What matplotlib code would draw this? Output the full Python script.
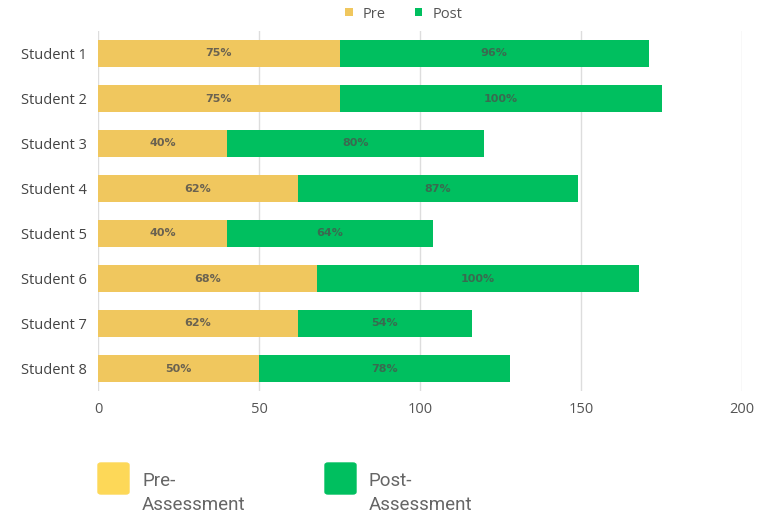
import matplotlib.pyplot as plt
from matplotlib.patches import FancyBboxPatch
import numpy as np

students = ['Student 1', 'Student 2', 'Student 3', 'Student 4',
            'Student 5', 'Student 6', 'Student 7', 'Student 8']
pre = [75, 75, 40, 62, 40, 68, 62, 50]
post = [96, 100, 80, 87, 64, 100, 54, 78]
x_ticks = [0, 50, 100, 150, 200]

PRE_COLOR = '#f0c75e'
POST_COLOR = '#00bf5f'
TEXT_COLOR = '#444444'

plt.rcParams['font.family'] = ['Open Sans', 'DejaVu Sans']

fig = plt.figure(figsize=(7.62, 5.15), dpi=100)
ax = fig.add_axes([98 / 762, 1 - 391 / 515, 644 / 762, (391 - 31) / 515])

y = np.arange(len(students))
bars_pre = ax.barh(y, pre, height=0.62, color=PRE_COLOR, label='Pre', zorder=2)
bars_post = ax.barh(y, post, left=pre, height=0.62, color=POST_COLOR, label='Post', zorder=2)

# Werte in den Balken
for i in range(len(students)):
    ax.text(pre[i] / 2, y[i], f'{pre[i]}%', ha='center', va='center',
            fontsize=8, fontweight='bold', color='#6a6250', zorder=3,
            family='DejaVu Sans')
    ax.text(pre[i] + post[i] / 2, y[i], f'{post[i]}%', ha='center', va='center',
            fontsize=8, fontweight='bold', color='#3a6a50', zorder=3,
            family='DejaVu Sans')

ax.set_xlim(0, 200)
ax.set_ylim(len(students) - 0.5, -0.5)
ax.set_yticks(y)
ax.set_yticklabels(students, fontsize=10.5, color=TEXT_COLOR)
ax.set_xticks(x_ticks)
ax.set_xticklabels([str(t) for t in x_ticks], fontsize=10.5, color='#555555')
ax.tick_params(length=0, pad=8)
ax.grid(axis='x', color='#dddddd', linewidth=1, zorder=0)
for s in ax.spines.values():
    s.set_visible(False)

# Legende oben
leg = fig.legend(handles=[bars_pre, bars_post], labels=['Pre', 'Post'],
                 loc='center', bbox_to_anchor=(0.53, 1 - 14 / 515), ncol=2,
                 frameon=False, handlelength=0.5, handleheight=0.5,
                 handletextpad=0.7, columnspacing=2.0, fontsize=10.5)
for t in leg.get_texts():
    t.set_color('#555555')

# Legende unten
for x0, col, txt in [(98, '#fdd858', 'Pre-\nAssessment'), (325, POST_COLOR, 'Post-\nAssessment')]:
    sq = FancyBboxPatch((x0 / 762, 1 - 494 / 515), 31 / 762, 31 / 515,
                        boxstyle='round,pad=0,rounding_size=0.004',
                        transform=fig.transFigure, color=col)
    fig.add_artist(sq)
    fig.text((x0 + 44) / 762, 1 - 493 / 515, txt, fontsize=13.5, color='#666666',
             va='center', linespacing=1.4, family=['Roboto', 'DejaVu Sans'])

fig.savefig('out.png', dpi=100)
